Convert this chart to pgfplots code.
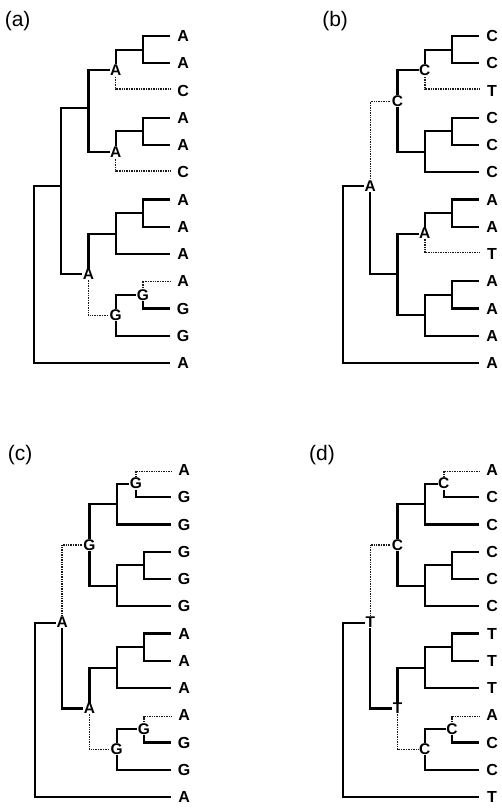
\documentclass[border=0pt]{standalone}
\usepackage{fontspec}
\setmainfont{Liberation Sans}
\usepackage{pgfplots}
\pgfplotsset{compat=1.18}
\newcommand{\leaffont}{\fontsize{16}{16}\bfseries\selectfont}
\newcommand{\nodefont}{\fontsize{15.5}{15.5}\bfseries\selectfont}
\newcommand{\panelfont}{\fontsize{21}{21}\selectfont}
\pgfplotsset{
  tree/.style={hide axis, scale only axis, clip=false, y dir=reverse,
    xmin=-1.2, xmax=5.8, ymin=0, ymax=13.6, width=190.75pt, height=370.6pt,
    anchor=north west, unbounded coords=jump},
  solidbr/.style={black, line width=2.1pt, mark=none},
  dottedbr/.style={black!90, line width=1.5pt, dash pattern=on 1pt off 0.7pt, mark=none},
  leaflab/.style={draw=none, mark=none, nodes near coords={\leaffont\pgfplotspointmeta}, point meta=explicit symbolic,
    nodes near coords style={anchor=center, inner sep=0pt}},
  nodelab/.style={draw=none, mark=none, nodes near coords={\nodefont\pgfplotspointmeta}, point meta=explicit symbolic,
    nodes near coords style={anchor=center, fill=white, inner sep=0.5pt}},
}
\begin{document}
\begin{tikzpicture}
\useasboundingbox (0,0) rectangle (501pt,-808pt);
% ---------------- (a) ----------------
\begin{axis}[tree, at={(1.3pt,-8.75pt)}]
\addplot[solidbr] table[row sep=\\] {
x y\\
0 9.75\\ 0 6.5\\ 1 6.5\\ nan nan\\
0 9.75\\ 0 13\\ 5 13\\ nan nan\\
1 6.5\\ 1 3.65\\ 2 3.65\\ nan nan\\
1 6.5\\ 1 9.75\\ 2 9.75\\ nan nan\\
2 3.65\\ 2 2.25\\ 3 2.25\\ nan nan\\
2 3.65\\ 2 5.25\\ 3 5.25\\ nan nan\\
3 2.25\\ 3 1.5\\ 4 1.5\\ nan nan\\
4 1.5\\ 4 1\\ 5 1\\ nan nan\\
4 1.5\\ 4 2\\ 5 2\\ nan nan\\
3 5.25\\ 3 4.5\\ 4 4.5\\ nan nan\\
4 4.5\\ 4 4\\ 5 4\\ nan nan\\
4 4.5\\ 4 5\\ 5 5\\ nan nan\\
2 9.75\\ 2 8.25\\ 3 8.25\\ nan nan\\
3 8.25\\ 3 7.5\\ 4 7.5\\ nan nan\\
4 7.5\\ 4 7\\ 5 7\\ nan nan\\
4 7.5\\ 4 8\\ 5 8\\ nan nan\\
3 8.25\\ 3 9\\ 5 9\\ nan nan\\
3 11.25\\ 3 10.5\\ 4 10.5\\ nan nan\\
3 11.25\\ 3 12\\ 5 12\\ nan nan\\
4 10.5\\ 4 11\\ 5 11\\
};
\addplot[dottedbr] table[row sep=\\] {
x y\\
3 2.25\\ 3 2.95\\ 5 2.95\\ nan nan\\
3 5.25\\ 3 5.95\\ 5 5.95\\ nan nan\\
2 9.75\\ 2 11.25\\ 3 11.25\\ nan nan\\
4 10.5\\ 4 10\\ 5 10\\
};
\addplot[nodelab] table[row sep=\\, meta=l] {
x y l\\
3 2.25 A\\ 3 5.25 A\\ 2 9.75 A\\ 3 11.25 G\\ 4 10.5 G\\
};
\addplot[leaflab] table[row sep=\\, meta=l] {
x y l\\
5.47 1 A\\ 5.47 2 A\\ 5.47 3 C\\ 5.47 4 A\\ 5.47 5 A\\ 5.47 6 C\\ 5.47 7 A\\
5.47 8 A\\ 5.47 9 A\\ 5.47 10 A\\ 5.47 11 G\\ 5.47 12 G\\ 5.47 13 A\\
};
\node[font=\panelfont] at (axis cs:-0.6,0.45) {(a)};
\end{axis}
% ---------------- (b) ----------------
\begin{axis}[tree, at={(310.3pt,-8.75pt)}]
\addplot[solidbr] table[row sep=\\] {
x y\\
0 9.75\\ 0 6.5\\ 1 6.5\\ nan nan\\
0 9.75\\ 0 13\\ 5 13\\ nan nan\\
1 6.5\\ 1 9.75\\ 2 9.75\\ nan nan\\
2 3.4\\ 2 2.25\\ 3 2.25\\ nan nan\\
2 3.4\\ 2 5.25\\ 3 5.25\\ nan nan\\
3 2.25\\ 3 1.5\\ 4 1.5\\ nan nan\\
4 1.5\\ 4 1\\ 5 1\\ nan nan\\
4 1.5\\ 4 2\\ 5 2\\ nan nan\\
3 5.25\\ 3 4.5\\ 4 4.5\\ nan nan\\
4 4.5\\ 4 4\\ 5 4\\ nan nan\\
4 4.5\\ 4 5\\ 5 5\\ nan nan\\
3 5.25\\ 3 6\\ 5 6\\ nan nan\\
2 9.75\\ 2 8.25\\ 3 8.25\\ nan nan\\
3 8.25\\ 3 7.5\\ 4 7.5\\ nan nan\\
4 7.5\\ 4 7\\ 5 7\\ nan nan\\
4 7.5\\ 4 8\\ 5 8\\ nan nan\\
2 9.75\\ 2 11.25\\ 3 11.25\\ nan nan\\
3 11.25\\ 3 10.5\\ 4 10.5\\ nan nan\\
4 10.5\\ 4 10\\ 5 10\\ nan nan\\
4 10.5\\ 4 11\\ 5 11\\ nan nan\\
3 11.25\\ 3 12\\ 5 12\\
};
\addplot[dottedbr] table[row sep=\\] {
x y\\
1 6.5\\ 1 3.4\\ 2 3.4\\ nan nan\\
3 2.25\\ 3 2.95\\ 5 2.95\\ nan nan\\
3 8.25\\ 3 8.95\\ 5 8.95\\
};
\addplot[nodelab] table[row sep=\\, meta=l] {
x y l\\
1 6.5 A\\ 2 3.4 C\\ 3 2.25 C\\ 3 8.25 A\\
};
\addplot[leaflab] table[row sep=\\, meta=l] {
x y l\\
5.47 1 C\\ 5.47 2 C\\ 5.47 3 T\\ 5.47 4 C\\ 5.47 5 C\\ 5.47 6 C\\ 5.47 7 A\\
5.47 8 A\\ 5.47 9 T\\ 5.47 10 A\\ 5.47 11 A\\ 5.47 12 A\\ 5.47 13 A\\
};
\node[font=\panelfont] at (axis cs:-0.29,0.47) {(b)};
\end{axis}
% ---------------- (c) ----------------
\begin{axis}[tree, at={(2.3pt,-442.75pt)}]
\addplot[solidbr] table[row sep=\\] {
x y\\
0 9.8\\ 0 6.6\\ 1 6.6\\ nan nan\\
0 9.8\\ 0 13\\ 5 13\\ nan nan\\
1 6.6\\ 1 9.75\\ 2 9.75\\ nan nan\\
2 3.75\\ 2 2.25\\ 3 2.25\\ nan nan\\
2 3.75\\ 2 5.25\\ 3 5.25\\ nan nan\\
3 2.25\\ 3 1.5\\ 3.7 1.5\\ nan nan\\
3.7 1.5\\ 3.7 2\\ 5 2\\ nan nan\\
3 2.25\\ 3 3\\ 5 3\\ nan nan\\
3 5.25\\ 3 4.5\\ 4 4.5\\ nan nan\\
4 4.5\\ 4 4\\ 5 4\\ nan nan\\
4 4.5\\ 4 5\\ 5 5\\ nan nan\\
3 5.25\\ 3 6\\ 5 6\\ nan nan\\
2 9.75\\ 2 8.25\\ 3 8.25\\ nan nan\\
3 8.25\\ 3 7.5\\ 4 7.5\\ nan nan\\
4 7.5\\ 4 7\\ 5 7\\ nan nan\\
4 7.5\\ 4 8\\ 5 8\\ nan nan\\
3 8.25\\ 3 9\\ 5 9\\ nan nan\\
3 11.25\\ 3 10.5\\ 4 10.5\\ nan nan\\
4 10.5\\ 4 11\\ 5 11\\ nan nan\\
3 11.25\\ 3 12\\ 5 12\\
};
\addplot[dottedbr] table[row sep=\\] {
x y\\
1 6.6\\ 1 3.75\\ 2 3.75\\ nan nan\\
3.7 1.5\\ 3.7 1.05\\ 5 1.05\\ nan nan\\
2 9.75\\ 2 11.25\\ 3 11.25\\ nan nan\\
4 10.5\\ 4 10.05\\ 5 10.05\\
};
\addplot[nodelab] table[row sep=\\, meta=l] {
x y l\\
1 6.6 A\\ 2 3.75 G\\ 3.7 1.5 G\\ 2 9.75 A\\ 3 11.25 G\\ 4 10.5 G\\
};
\addplot[leaflab] table[row sep=\\, meta=l] {
x y l\\
5.47 1 A\\ 5.47 2 G\\ 5.47 3 G\\ 5.47 4 G\\ 5.47 5 G\\ 5.47 6 G\\ 5.47 7 A\\
5.47 8 A\\ 5.47 9 A\\ 5.47 10 A\\ 5.47 11 G\\ 5.47 12 G\\ 5.47 13 A\\
};
\node[font=\panelfont] at (axis cs:-0.55,0.45) {(c)};
\end{axis}
% ---------------- (d) ----------------
\begin{axis}[tree, at={(310.3pt,-442.75pt)}]
\addplot[solidbr] table[row sep=\\] {
x y\\
0 9.8\\ 0 6.6\\ 1 6.6\\ nan nan\\
0 9.8\\ 0 13\\ 5 13\\ nan nan\\
1 6.6\\ 1 9.75\\ 2 9.75\\ nan nan\\
2 3.75\\ 2 2.25\\ 3 2.25\\ nan nan\\
2 3.75\\ 2 5.25\\ 3 5.25\\ nan nan\\
3 2.25\\ 3 1.5\\ 3.7 1.5\\ nan nan\\
3.7 1.5\\ 3.7 2\\ 5 2\\ nan nan\\
3 2.25\\ 3 3\\ 5 3\\ nan nan\\
3 5.25\\ 3 4.5\\ 4 4.5\\ nan nan\\
4 4.5\\ 4 4\\ 5 4\\ nan nan\\
4 4.5\\ 4 5\\ 5 5\\ nan nan\\
3 5.25\\ 3 6\\ 5 6\\ nan nan\\
2 9.75\\ 2 8.25\\ 3 8.25\\ nan nan\\
3 8.25\\ 3 7.5\\ 4 7.5\\ nan nan\\
4 7.5\\ 4 7\\ 5 7\\ nan nan\\
4 7.5\\ 4 8\\ 5 8\\ nan nan\\
3 8.25\\ 3 9\\ 5 9\\ nan nan\\
3 11.25\\ 3 10.5\\ 4 10.5\\ nan nan\\
4 10.5\\ 4 11\\ 5 11\\ nan nan\\
3 11.25\\ 3 12\\ 5 12\\
};
\addplot[dottedbr] table[row sep=\\] {
x y\\
1 6.6\\ 1 3.75\\ 2 3.75\\ nan nan\\
3.7 1.5\\ 3.7 1.05\\ 5 1.05\\ nan nan\\
2 9.75\\ 2 11.25\\ 3 11.25\\ nan nan\\
4 10.5\\ 4 10.05\\ 5 10.05\\
};
\addplot[nodelab] table[row sep=\\, meta=l] {
x y l\\
1 6.6 T\\ 2 3.75 C\\ 3.7 1.5 C\\ 2 9.75 T\\ 3 11.25 C\\ 4 10.5 C\\
};
\addplot[leaflab] table[row sep=\\, meta=l] {
x y l\\
5.47 1 A\\ 5.47 2 C\\ 5.47 3 C\\ 5.47 4 C\\ 5.47 5 C\\ 5.47 6 C\\ 5.47 7 T\\
5.47 8 T\\ 5.47 9 T\\ 5.47 10 A\\ 5.47 11 C\\ 5.47 12 C\\ 5.47 13 T\\
};
\node[font=\panelfont] at (axis cs:-0.77,0.45) {(d)};
\end{axis}
\end{tikzpicture}
\end{document}
